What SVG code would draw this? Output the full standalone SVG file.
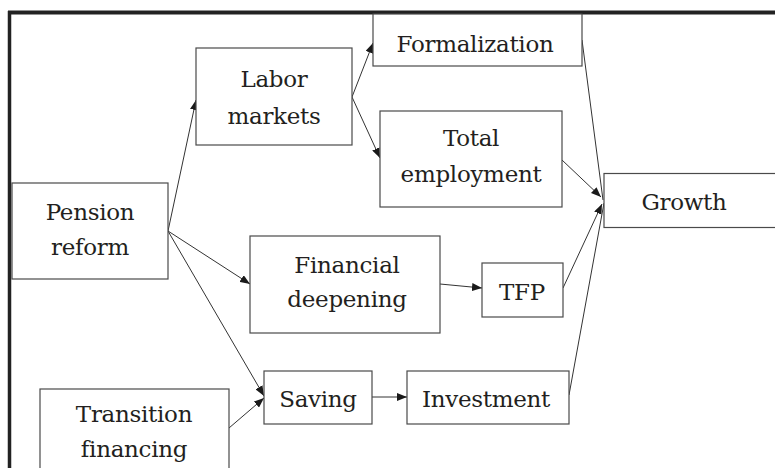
<svg xmlns="http://www.w3.org/2000/svg" width="775" height="468" viewBox="0 0 775 468">
  <style>
    .box { fill: #ffffff; stroke: #4a4a4a; stroke-width: 1.2; }
    .lbl { font-family: 'DejaVu Serif', serif; font-size: 23px; letter-spacing: -0.3px; fill: #231f20; text-anchor: middle; }
    .link { stroke: #333333; stroke-width: 1; fill: none; }
    .arr { marker-end: url(#head); }
    .frame { stroke: #222222; fill: none; }
  </style>
  <defs>
    <marker id="head" markerUnits="userSpaceOnUse" markerWidth="10" markerHeight="8" refX="10" refY="4" orient="auto">
      <path d="M0,0 L10,4 L0,8 z" fill="#1a1a1a"/>
    </marker>
  </defs>
  <rect width="775" height="468" fill="#ffffff"/>

  <!-- outer frame (top and left edges) -->
  <g id="frame">
    <line class="frame" x1="8" y1="12.5" x2="775" y2="12.5" stroke-width="4"/>
    <line class="frame" x1="9.5" y1="11" x2="9.5" y2="468" stroke-width="3.5"/>
  </g>

  <g id="connectors">
    <line class="link arr" x1="168" y1="231" x2="196" y2="100"/>
    <line class="link arr" x1="352" y1="97" x2="373" y2="43"/>
    <line class="link arr" x1="352" y1="97" x2="380" y2="158"/>
    <line class="link" x1="582" y1="40" x2="603" y2="200"/>
    <line class="link arr" x1="562" y1="160" x2="601" y2="197"/>
    <line class="link arr" x1="563" y1="288" x2="602" y2="204"/>
    <line class="link" x1="569" y1="395" x2="604" y2="203"/>
    <line class="link arr" x1="168" y1="231" x2="250" y2="284"/>
    <line class="link arr" x1="168" y1="231" x2="264" y2="396"/>
    <line class="link arr" x1="229" y1="428" x2="264" y2="398"/>
    <line class="link arr" x1="440" y1="284" x2="482" y2="288"/>
    <line class="link arr" x1="372" y1="397" x2="407" y2="397"/>
  </g>

  <g id="labor-markets">
    <rect class="box" x="196" y="48" width="156" height="97"/>
    <text class="lbl" x="274" y="87">Labor</text>
    <text class="lbl" x="274" y="124">markets</text>
  </g>

  <g id="formalization">
    <rect class="box" x="373" y="14" width="209" height="52"/>
    <text class="lbl" x="475" y="52">Formalization</text>
  </g>

  <g id="total-employment">
    <rect class="box" x="380" y="111" width="182" height="96"/>
    <text class="lbl" x="471" y="146">Total</text>
    <text class="lbl" x="471" y="182">employment</text>
  </g>

  <g id="growth">
    <rect class="box" x="604" y="173.5" width="200" height="54"/>
    <text class="lbl" x="684" y="210">Growth</text>
  </g>

  <g id="pension-reform">
    <rect class="box" x="12" y="183" width="156" height="96"/>
    <text class="lbl" x="90" y="220">Pension</text>
    <text class="lbl" x="90" y="255">reform</text>
  </g>

  <g id="financial-deepening">
    <rect class="box" x="250" y="236" width="190" height="97"/>
    <text class="lbl" x="347" y="273">Financial</text>
    <text class="lbl" x="347" y="307">deepening</text>
  </g>

  <g id="tfp">
    <rect class="box" x="482" y="263" width="81" height="54"/>
    <text class="lbl" x="522" y="300">TFP</text>
  </g>

  <g id="saving">
    <rect class="box" x="264" y="371" width="108" height="53"/>
    <text class="lbl" x="318" y="407">Saving</text>
  </g>

  <g id="investment">
    <rect class="box" x="407" y="371" width="162" height="53"/>
    <text class="lbl" x="486" y="407">Investment</text>
  </g>

  <g id="transition-financing">
    <rect class="box" x="40" y="389" width="189" height="100"/>
    <text class="lbl" x="134" y="422">Transition</text>
    <text class="lbl" x="134" y="457">financing</text>
  </g>
</svg>
